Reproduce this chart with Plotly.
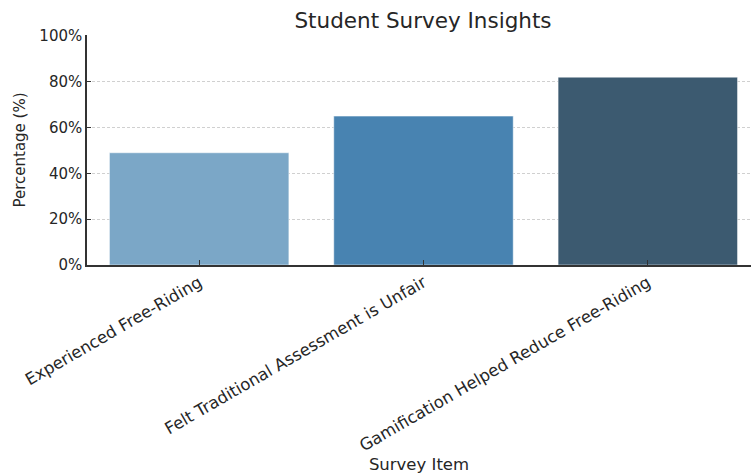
import plotly.graph_objects as go

categories = ["Experienced Free-Riding", "Felt Traditional Assessment is Unfair", "Gamification Helped Reduce Free-Riding"]
percentages = [49, 65, 82]
bar_colors = ["#7ba7c7", "#4883b1", "#3c5a70"]
y_ticks = [0, 20, 40, 60, 80, 100]
y_tick_labels = ["0%", "20%", "40%", "60%", "80%", "100%"]

font = "DejaVu Sans"

fig = go.Figure(go.Bar(
    x=categories, y=percentages, width=0.8,
    marker=dict(color=bar_colors, line=dict(color="rgba(255,255,255,0.5)", width=1)),
))

fig.update_layout(
    width=751, height=474,
    margin=dict(l=87, r=0, t=35, b=209),
    paper_bgcolor="white", plot_bgcolor="white",
    font=dict(family=font, color="#262626"),
    title=dict(text="Student Survey Insights", x=423 / 751, xanchor="center",
               y=1 - 20 / 474, yanchor="middle", font=dict(size=21.5, family=font, color="#262626")),
    showlegend=False,
    bargap=0.2,
)
fig.update_xaxes(
    range=[-0.5, 2.46], tickangle=-30, tickfont=dict(size=16.5, family=font),
    showline=True, linecolor="#333333", linewidth=1.5,
    ticks="inside", ticklen=5, tickcolor="#333333",
    title=dict(text="Survey Item", font=dict(size=16.5, family=font), standoff=7),
    showgrid=False,
)
fig.update_yaxes(
    range=[0, 100.4], tickvals=y_ticks, ticktext=y_tick_labels,
    tickfont=dict(size=15, family=font),
    showline=True, linecolor="#333333", linewidth=1.5,
    ticks="inside", ticklen=4, tickcolor="#333333",
    showgrid=True, gridcolor="#d0d0d0", griddash="3px,2px", gridwidth=0.8,
    zeroline=False,
    title=dict(text="Percentage (%)", font=dict(size=15, family=font), standoff=10),
)

fig.write_html("out.html")
